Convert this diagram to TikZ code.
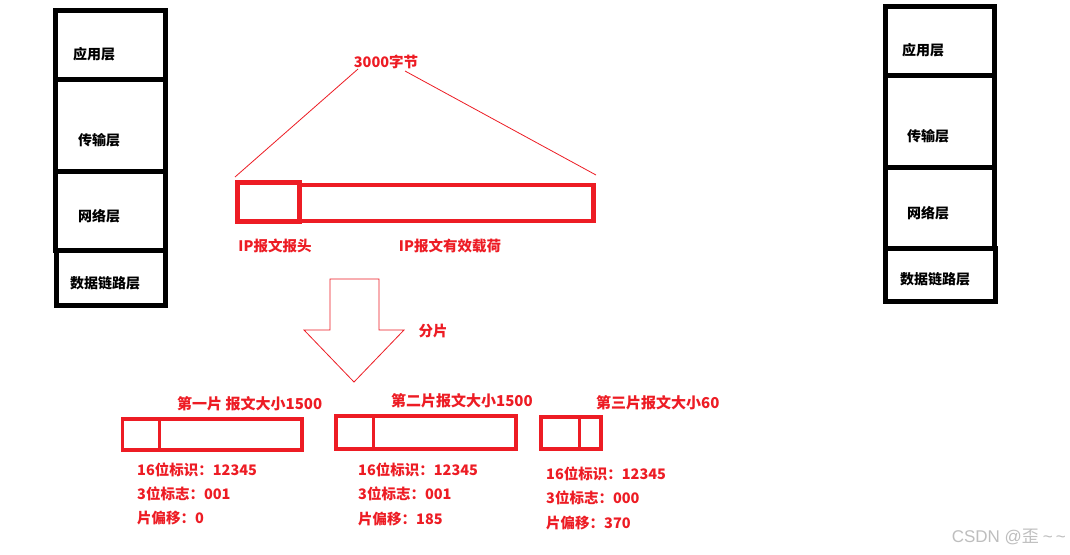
\documentclass[tikz,border=0pt]{standalone}
\usepackage{fontspec}
\setmainfont{Noto Sans CJK SC}
\newfontfamily\latwm{Liberation Sans}
\definecolor{pred}{RGB}{237,28,36}
\definecolor{wm}{RGB}{190,190,190}
\tikzset{
 layerbox/.style={draw=black, line width=5pt},
 layertxt/.style={font=\fontsize{14}{16}\selectfont\bfseries, text=black, inner sep=0pt},
 redbox/.style={draw=pred, line width=4.5pt},
 fragbox/.style={draw=pred, line width=3.5pt},
 redtxt/.style={font=\fontsize{14.5}{16}\selectfont\bfseries, text=pred, inner sep=0pt},
 titletxt/.style={font=\fontsize{15}{17}\selectfont\bfseries, text=pred, inner sep=0pt, anchor=west},
 infotxt/.style={font=\fontsize{14.5}{16}\selectfont\bfseries, text=pred, inner sep=0pt, anchor=west},
 thinred/.style={draw=pred, line width=0.8pt},
}
\begin{document}
\begin{tikzpicture}[x=1pt,y=-1pt]
\useasboundingbox (0,0) rectangle (1070,554);
\fill[white] (0,0) rectangle (1070,554);

% left protocol stack
\draw[layerbox] (55.5,10) rectangle (165,79.5);
\draw[layerbox] (55.5,79.5) rectangle (165,171);
\draw[layerbox] (55.5,171) rectangle (165,250);
\draw[layerbox] (56.5,250) rectangle (165.5,305.5);
\node[layertxt] (la) at (94,54) {应用层};
\node[layertxt] (lt) at (99,140) {传输层};
\node[layertxt] (ln) at (99,216) {网络层};
\node[layertxt] (ld) at (105,283) {数据链路层};

% right protocol stack
\draw[layerbox] (885,6) rectangle (994.5,75);
\draw[layerbox] (885,75) rectangle (994.5,167);
\draw[layerbox] (885,167) rectangle (994.5,248);
\draw[layerbox] (885.5,248) rectangle (995,301);
\node[layertxt] (ra) at (923,50) {应用层};
\node[layertxt] (rt) at (928,136) {传输层};
\node[layertxt] (rn) at (928,213) {网络层};
\node[layertxt] (rd) at (935,279) {数据链路层};

% IP datagram
\draw[redbox] (299.5,185) rectangle (593.5,221);
\draw[redbox] (237.5,182.5) rectangle (299.5,221.5);
\node[redtxt] (total) at (386,62) {3000字节};
\coordinate (cl) at (235,177);
\coordinate (cr) at (596,175);
\draw[thinred] (358,69) -- (cl);
\draw[thinred] (405,71) -- (cr);
\node[redtxt] (hdr) at (275,246) {IP报文报头};
\node[redtxt] (pay) at (450,246) {IP报文有效载荷};

% arrow
\draw[thinred] (330,279) -- (379,279) -- (379,330) -- (404,330) -- (354,382) -- (304,330) -- (330,330) -- cycle;
\node[redtxt] (frag) at (433,331) {分片};

% fragment 1
\draw[fragbox] (122.5,419) rectangle (302,450);
\draw[fragbox] (159.5,419) -- (159.5,450);
\node[titletxt] (t1) at (177,404) {第一片 报文大小1500};
\node[infotxt] (a1) at (137,470) {16位标识：12345};
\node[infotxt] (b1) at (137,494) {3位标志：001};
\node[infotxt] (c1) at (137,518) {片偏移：0};

% fragment 2
\draw[fragbox] (336,416) rectangle (516,449);
\draw[fragbox] (373.5,416) -- (373.5,449);
\node[titletxt] (t2) at (391,401) {第二片报文大小1500};
\node[infotxt] (a2) at (358,470) {16位标识：12345};
\node[infotxt] (b2) at (358,494) {3位标志：001};
\node[infotxt] (c2) at (358,519) {片偏移：185};

% fragment 3
\draw[fragbox] (541,417) rectangle (601,449);
\draw[fragbox] (579.5,417) -- (579.5,449);
\node[titletxt] (t3) at (596,403) {第三片报文大小60};
\node[infotxt] (a3) at (546,474) {16位标识：12345};
\node[infotxt] (b3) at (546,498) {3位标志：000};
\node[infotxt] (c3) at (546,523) {片偏移：370};

% watermark
\node[font=\fontsize{17}{19}\selectfont, text=wm, inner sep=0pt, anchor=east] (wmk) at (1066,537) {{\latwm CSDN @}歪\hspace{4pt}{\latwm\textasciitilde\hspace{3pt}\textasciitilde}};
\end{tikzpicture}
\end{document}
